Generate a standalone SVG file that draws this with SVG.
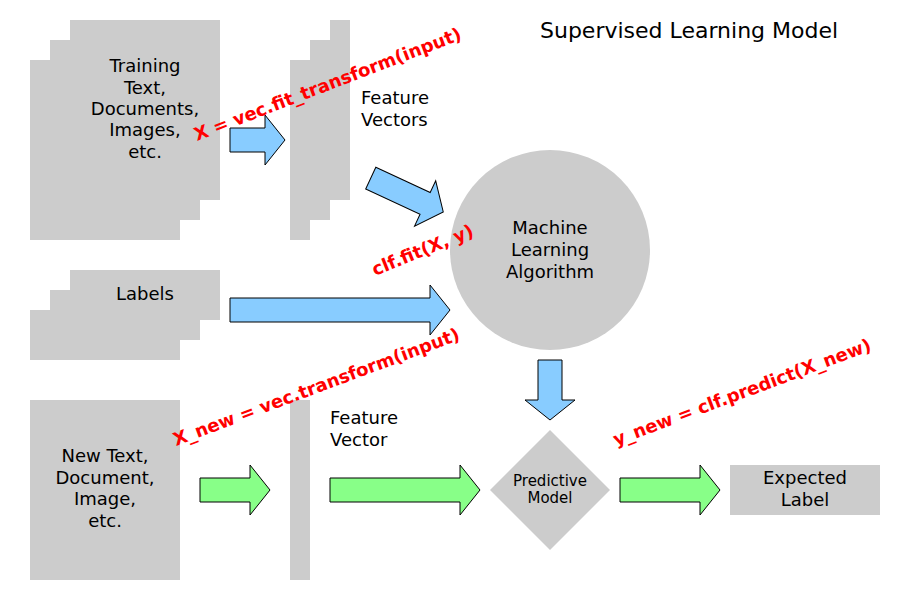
<svg xmlns="http://www.w3.org/2000/svg" width="900" height="600" viewBox="0 0 900 600">
<style>
.box{fill:#cccccc}
.t{font-family:"DejaVu Sans",sans-serif;font-size:18px;fill:#000;text-anchor:middle}
.tl{font-family:"DejaVu Sans",sans-serif;font-size:18px;fill:#000}
.red{font-family:"DejaVu Sans",sans-serif;font-size:18px;font-weight:bold;fill:#ff0000}
.blue{fill:#88ccff;stroke:#000;stroke-width:1}
.green{fill:#88ff88;stroke:#000;stroke-width:1}
</style>
<rect width="900" height="600" fill="#fff"/>
<g id="training">
<rect class="box" x="70" y="20" width="150" height="180"/>
<rect class="box" x="50" y="40" width="150" height="180"/>
<rect class="box" x="30" y="60" width="150" height="180"/>
<text class="t" x="145" y="72">Training</text>
<text class="t" x="145" y="94">Text,</text>
<text class="t" x="145" y="115">Documents,</text>
<text class="t" x="145" y="136">Images,</text>
<text class="t" x="145" y="158">etc.</text>
</g>
<g id="features">
<rect class="box" x="330" y="20" width="20" height="180"/>
<rect class="box" x="310" y="40" width="20" height="180"/>
<rect class="box" x="290" y="60" width="20" height="180"/>
<text class="tl" x="361" y="104">Feature</text>
<text class="tl" x="361" y="126">Vectors</text>
</g>
<g id="labels">
<rect class="box" x="70" y="270" width="150" height="50"/>
<rect class="box" x="50" y="290" width="150" height="50"/>
<rect class="box" x="30" y="310" width="150" height="50"/>
<text class="t" x="145" y="300">Labels</text>
</g>
<g id="algorithm">
<circle class="box" cx="550" cy="250" r="100"/>
<text class="t" x="550" y="234">Machine</text>
<text class="t" x="550" y="256">Learning</text>
<text class="t" x="550" y="278">Algorithm</text>
</g>
<g id="newtext">
<rect class="box" x="30" y="400" width="150" height="180"/>
<text class="t" x="105" y="462">New Text,</text>
<text class="t" x="105" y="484">Document,</text>
<text class="t" x="105" y="505">Image,</text>
<text class="t" x="105" y="527">etc.</text>
</g>
<g id="featurevector">
<rect class="box" x="290" y="400" width="20" height="180"/>
<text class="tl" x="330" y="424">Feature</text>
<text class="tl" x="330" y="446">Vector</text>
</g>
<g id="model">
<polygon class="box" points="550,430 610,490 550,550 490,490"/>
<text class="t" x="550" y="486" style="font-size:15px">Predictive</text>
<text class="t" x="550" y="503" style="font-size:15px">Model</text>
</g>
<g id="expected">
<rect class="box" x="730" y="465" width="150" height="50"/>
<text class="t" x="805" y="484">Expected</text>
<text class="t" x="805" y="506">Label</text>
</g>
<g id="connectors">
<polygon class="blue" points="230,128 265,128 265,115 285,140 265,165 265,152 230,152"/>
<polygon class="blue" transform="rotate(25 407 195)" points="367,183 427,183 427,170 447,195 427,220 427,207 367,207"/>
<polygon class="blue" points="230,298 430,298 430,285 450,310 430,335 430,322 230,322"/>
<polygon class="blue" points="538,360 562,360 562,400 575,400 550,420 525,400 538,400"/>
<polygon class="green" points="200,478 250,478 250,465 270,490 250,515 250,502 200,502"/>
<polygon class="green" points="330,478 460,478 460,465 480,490 460,515 460,502 330,502"/>
<polygon class="green" points="620,478 700,478 700,465 720,490 700,515 700,502 620,502"/>
</g>
<text x="540" y="38" style="font-family:'DejaVu Sans',sans-serif;font-size:22px">Supervised Learning Model</text>
<text class="red" transform="translate(197,141) rotate(-21)">X = vec.fit_transform(input)</text>
<text class="red" transform="translate(375,276) rotate(-22)">clf.fit(X, y)</text>
<text class="red" transform="translate(176,446) rotate(-20.5)">X_new = vec.transform(input)</text>
<text class="red" transform="translate(616,446) rotate(-20.5)">y_new = clf.predict(X_new)</text>
</svg>
